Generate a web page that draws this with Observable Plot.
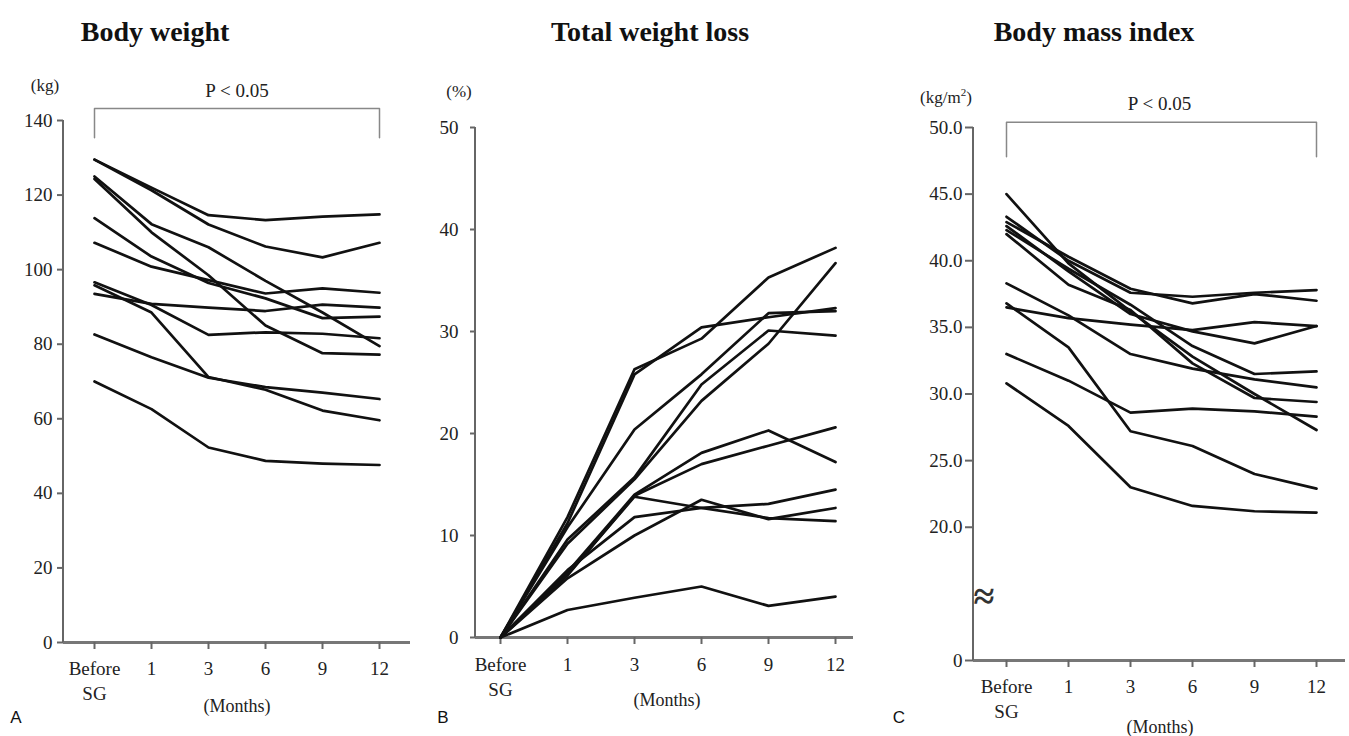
<!DOCTYPE html>
<html>
<head>
<meta charset="utf-8">
<script src="https://cdn.jsdelivr.net/npm/d3@7"></script>
<script src="https://cdn.jsdelivr.net/npm/@observablehq/plot@0.6"></script>
<style>
  html, body { margin: 0; padding: 0; background: #fff; }
  #root { position: relative; width: 1349px; height: 736px; overflow: hidden; background: #fff; }
  #root svg { position: absolute; top: 0; overflow: visible; }
  .lbl { position: absolute; transform: translate(-50%, -50%); white-space: nowrap; font-family: 'Liberation Serif', 'Times New Roman', serif; color: #222; }
  .title { font-weight: bold; font-size: 28px; color: #111; }
  .unit { font-size: 17px; }
  .months { font-size: 18px; }
  .letter { font-family: 'Liberation Sans', Arial, sans-serif; font-size: 17px; color: #111; }
</style>
</head>
<body>
<div id="root"></div>
<script>
// ---- data ----
const months = ["Before", "1", "3", "6", "9", "12"];

// Body weight (kg), one row per patient
const bodyWeight = [
  [129.5, 122.0, 114.6, 113.3, 114.2, 114.8],
  [129.5, 121.3, 112.1, 106.2, 103.3, 107.2],
  [125.0, 112.2, 106.0, 97.0, 88.5, 79.5],
  [124.3, 110.0, 98.5, 85.0, 77.6, 77.2],
  [113.8, 103.5, 96.4, 92.3, 87.0, 87.4],
  [107.2, 100.8, 97.2, 93.6, 95.0, 93.8],
  [96.6, 90.5, 82.5, 83.2, 82.8, 81.6],
  [95.8, 88.5, 71.2, 67.8, 62.2, 59.6],
  [93.5, 90.8, 89.8, 88.9, 90.6, 89.8],
  [82.6, 76.5, 71.0, 68.5, 67.0, 65.3],
  [70.0, 62.6, 52.3, 48.7, 48.0, 47.6]
];

// Total weight loss (%)
const totalWeightLoss = [
  [0, 11.8, 26.3, 29.3, 35.3, 38.2],
  [0, 11.2, 25.8, 30.4, 31.4, 32.3],
  [0, 10.8, 20.4, 25.8, 31.8, 32.0],
  [0, 9.6, 15.7, 24.8, 30.1, 29.6],
  [0, 9.2, 15.5, 23.2, 28.8, 36.7],
  [0, 6.4, 14.0, 18.1, 20.3, 17.2],
  [0, 6.1, 13.9, 17.0, 18.8, 20.6],
  [0, 6.2, 13.8, 12.7, 11.7, 11.4],
  [0, 6.6, 11.8, 12.7, 13.1, 14.5],
  [0, 5.8, 10.0, 13.5, 11.6, 12.7],
  [0, 2.7, 3.9, 5.0, 3.1, 4.0]
];

// Body mass index (kg/m2)
const bodyMassIndex = [
  [45.0, 39.8, 36.2, 32.8, 30.0, 27.3],
  [43.3, 40.0, 37.6, 37.3, 37.6, 37.8],
  [42.9, 40.3, 37.9, 36.8, 37.5, 37.0],
  [42.6, 39.2, 36.0, 34.7, 33.8, 35.1],
  [42.3, 39.4, 36.7, 33.6, 31.5, 31.7],
  [42.0, 38.2, 36.3, 32.3, 29.7, 29.4],
  [38.3, 35.9, 33.0, 31.9, 31.1, 30.5],
  [36.8, 33.5, 27.2, 26.1, 24.0, 22.9],
  [36.5, 35.7, 35.2, 34.8, 35.4, 35.1],
  [33.0, 31.0, 28.6, 28.9, 28.7, 28.3],
  [30.8, 27.6, 23.0, 21.6, 21.2, 21.1]
];

const weightTicks = [0, 20, 40, 60, 80, 100, 120, 140];
const twlTicks = [0, 10, 20, 30, 40, 50];
const bmiTicks = [10, 20, 25, 30, 35, 40, 45, 50]; // 10 is the broken-axis origin, labelled "0"

// ---- drawing ----
const root = document.getElementById("root");

function toRows(values) {
  return values.flatMap((row, i) => row.map((v, j) => ({id: i, month: months[j], value: v})));
}

function bracket(lo, hi) {
  return [
    {m: "Before", v: lo}, {m: "Before", v: hi}, {m: "12", v: hi}, {m: "12", v: lo}
  ];
}

function panel(cfg) {
  const svg = Plot.plot({
    width: cfg.width,
    height: 736,
    marginLeft: cfg.ml, marginRight: cfg.mr, marginTop: cfg.mt, marginBottom: cfg.mb,
    style: {fontFamily: "'Liberation Serif', 'Times New Roman', serif", fontSize: "19px", color: "#222", background: "transparent", overflow: "visible"},
    x: {type: "point", domain: months, range: cfg.xRange, padding: 0, label: null},
    y: {domain: cfg.yDomain, label: null},
    marks: [
      Plot.ruleY([cfg.yDomain[0]], {stroke: "#777", strokeWidth: 3}),
      Plot.axisX({tickSize: 7, tickPadding: cfg.xPad, stroke: "#666", strokeWidth: 2,
        tickFormat: d => d === "Before" ? "Before\nSG" : d, lineHeight: 1.3, label: null}),
      Plot.axisY({ticks: cfg.yTicks, tickSize: cfg.yTickSize, tickPadding: cfg.yPad, stroke: "#666", strokeWidth: 2,
        tickFormat: cfg.yFormat, label: null}),
      Plot.line(toRows(cfg.values), {x: "month", y: "value", z: "id", stroke: "#111", strokeWidth: 2.7, strokeLinejoin: "round"}),
      ...(cfg.extra || [])
    ]
  });
  // y axis line along the left edge of the frame
  const yr = svg.scale("y").range;
  d3.select(svg).append("line")
    .attr("x1", cfg.ml).attr("x2", cfg.ml)
    .attr("y1", yr[0]).attr("y2", yr[1])
    .attr("stroke", "#666").attr("stroke-width", 2);
  svg.style.left = cfg.left + "px";
  root.appendChild(svg);
  return svg;
}

const pFont = {fontSize: 19, fill: "#222"};

panel({
  left: 0, width: 430, ml: 63, mr: 20, mt: 120, mb: 94,
  xRange: [93, 379], xPad: 8,
  yDomain: [0, 140], yTicks: weightTicks, yTickSize: 6, yPad: 5, yFormat: d => d,
  values: bodyWeight,
  extra: [
    Plot.line(bracket(135.4, 143.2), {x: "m", y: "v", stroke: "#888", strokeWidth: 1.5}),
    Plot.text(["P < 0.05"], {text: d => d, y: 148, frameAnchor: "middle", ...pFont})
  ]
});

panel({
  left: 430, width: 450, ml: 45, mr: 27, mt: 127, mb: 99,
  xRange: [69, 405], xPad: 9,
  yDomain: [0, 50], yTicks: twlTicks, yTickSize: 5, yPad: 12, yFormat: d => d,
  values: totalWeightLoss
});

panel({
  left: 880, width: 469, ml: 93, mr: 4, mt: 127, mb: 76,
  xRange: [125, 436], xPad: 8,
  yDomain: [10, 50], yTicks: bmiTicks, yTickSize: 8, yPad: 3,
  yFormat: d => d === 10 ? "0" : d.toFixed(1),
  values: bodyMassIndex,
  extra: [
    Plot.line(bracket(47.8, 50.4), {x: "m", y: "v", stroke: "#888", strokeWidth: 1.5}),
    Plot.text(["P < 0.05"], {text: d => d, y: 51.8, frameAnchor: "middle", ...pFont}),
    Plot.text(["≈"], {text: d => d, y: 14.75, frameAnchor: "left", fontSize: 38, fontWeight: "bold", fill: "#333"})
  ]
});

// ---- surrounding text ----
function label(text, x, y, cls, html) {
  const el = document.createElement("div");
  el.className = "lbl " + cls;
  if (html) el.innerHTML = text; else el.textContent = text;
  el.style.left = x + "px";
  el.style.top = y + "px";
  root.appendChild(el);
}
label("Body weight", 155, 32, "title");
label("Total weight loss", 650, 32, "title");
label("Body mass index", 1094, 32, "title");
label("(kg)", 45, 86, "unit");
label("(%)", 459, 92, "unit");
label("(kg/m<sup style='font-size:11px'>2</sup>)", 946, 97, "unit", true);
label("(Months)", 237, 706, "months");
label("(Months)", 667, 700, "months");
label("(Months)", 1160, 727, "months");
label("A", 16, 718, "letter");
label("B", 443, 718, "letter");
label("C", 899, 718, "letter");
</script>
</body>
</html>
